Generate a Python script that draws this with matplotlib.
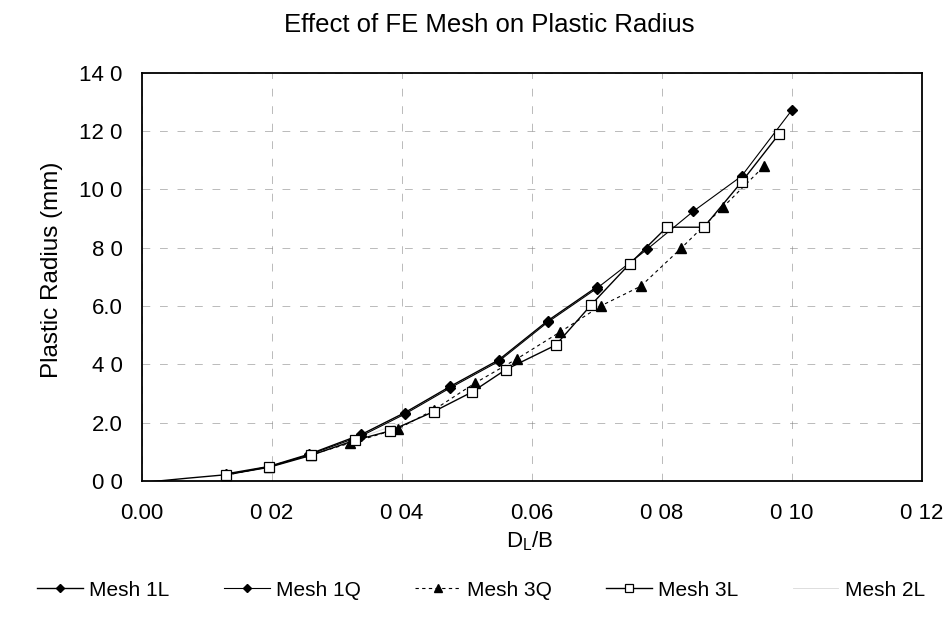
import matplotlib
matplotlib.use("Agg")
import matplotlib.pyplot as plt

plt.rcParams['font.family'] = ['Liberation Sans', 'DejaVu Sans']

# ---- data ----
mesh1l_x = [0.013, 0.0195, 0.0257, 0.0338, 0.0405, 0.0475, 0.0549, 0.0625, 0.070]
mesh1l_y = [0.25, 0.50, 0.92, 1.60, 2.35, 3.25, 4.15, 5.50, 6.65]

mesh1q_x = [0.013, 0.0195, 0.0257, 0.0338, 0.0405, 0.0475, 0.0549, 0.0625, 0.070,
            0.0778, 0.0849, 0.0923, 0.100]
mesh1q_y = [0.22, 0.48, 0.90, 1.55, 2.30, 3.20, 4.10, 5.45, 6.60,
            7.95, 9.25, 10.45, 12.70]

mesh3q_x = [0.013, 0.0195, 0.026, 0.032, 0.0395, 0.045, 0.0512, 0.0578, 0.0643,
            0.0706, 0.0768, 0.083, 0.0895, 0.0958]
mesh3q_y = [0.20, 0.50, 0.90, 1.30, 1.80, 2.45, 3.35, 4.20, 5.10,
            6.00, 6.68, 7.98, 9.40, 10.80]

mesh3l_x = [0.0, 0.007, 0.013, 0.0195, 0.026, 0.0328, 0.0382, 0.0449, 0.0508, 0.056,
            0.0637, 0.0692, 0.0751, 0.0808, 0.0865, 0.0923, 0.0981]
mesh3l_y = [-0.05, 0.10, 0.22, 0.47, 0.88, 1.40, 1.72, 2.38, 3.05, 3.82,
            4.66, 6.05, 7.45, 8.70, 8.70, 10.25, 11.90]

mesh2l_x = [0.013, 0.0195, 0.026, 0.033, 0.040]
mesh2l_y = [0.24, 0.48, 0.88, 1.45, 2.0]

x_ticks = [0.00, 0.02, 0.04, 0.06, 0.08, 0.10, 0.12]
x_ticklabels = ["0.00", "0 02", "0 04", "0.06", "0 08", "0 10", "0 12"]
y_ticks = [0, 2, 4, 6, 8, 10, 12, 14]
y_ticklabels = ["0 0", "2.0", "4 0", "6.0", "8 0", "10 0", "12 0", "14 0"]

fig = plt.figure(figsize=(9.52, 6.2), dpi=100)
ax = fig.add_axes([0.149, 0.224, 0.819, 0.659])

ax.plot(mesh1l_x, mesh1l_y, color='black', lw=1.0, marker='D', ms=5,
        mfc='black', mec='black', label='Mesh 1L', zorder=4)
ax.plot(mesh1q_x, mesh1q_y, color='black', lw=0.8, marker='D', ms=5,
        mfc='black', mec='black', label='Mesh 1Q', zorder=4)
ax.plot(mesh3q_x, mesh3q_y, color='black', lw=0.8, ls=(0, (3, 3)), marker='^', ms=7,
        mfc='black', mec='black', label='Mesh 3Q', zorder=4)
ax.plot(mesh3l_x, mesh3l_y, color='black', lw=1.0, marker='s', ms=7.5,
        mfc='white', mec='black', mew=0.9, markevery=list(range(2, len(mesh3l_x))),
        label='Mesh 3L', zorder=5)
ax.plot(mesh2l_x, mesh2l_y, color='#d8d8d8', lw=0.6, label='Mesh 2L', zorder=3)

ax.set_xlim(0.0, 0.12)
ax.set_ylim(0.0, 14.0)
ax.set_xticks(x_ticks)
ax.set_xticklabels(x_ticklabels, fontsize=16)
ax.set_yticks(y_ticks)
ax.set_yticklabels(y_ticklabels, fontsize=16)
ax.tick_params(axis='x', length=0, pad=16)
ax.tick_params(axis='y', length=0, pad=14)

ax.grid(True, color='#777777', lw=0.7, ls=(0, (8, 10)), alpha=0.5)
ax.set_axisbelow(True)
for s in ax.spines.values():
    s.set_color('black')
    s.set_linewidth(1.3)

fig.text(530 / 952, 1 - 541 / 620, r"D$_\mathregular{L}$/B", ha='center', va='center',
         fontsize=16)
fig.text(52 / 952, 1 - 270 / 620, "Plastic Radius (mm)", ha='center', va='center',
         rotation=90, fontsize=17.5)

fig.text(489 / 952, 1 - 25 / 620, "Effect of FE Mesh on Plastic Radius", ha='center',
         va='center', fontsize=18.5)

fig.legend(loc='center left', bbox_to_anchor=(29 / 952, 1 - 590 / 620), ncol=5,
           frameon=False, fontsize=15, handlelength=2.2, columnspacing=2.6,
           handletextpad=0.3, markerscale=0.8, borderaxespad=0)

fig.savefig("out.png", dpi=100, facecolor='white')
